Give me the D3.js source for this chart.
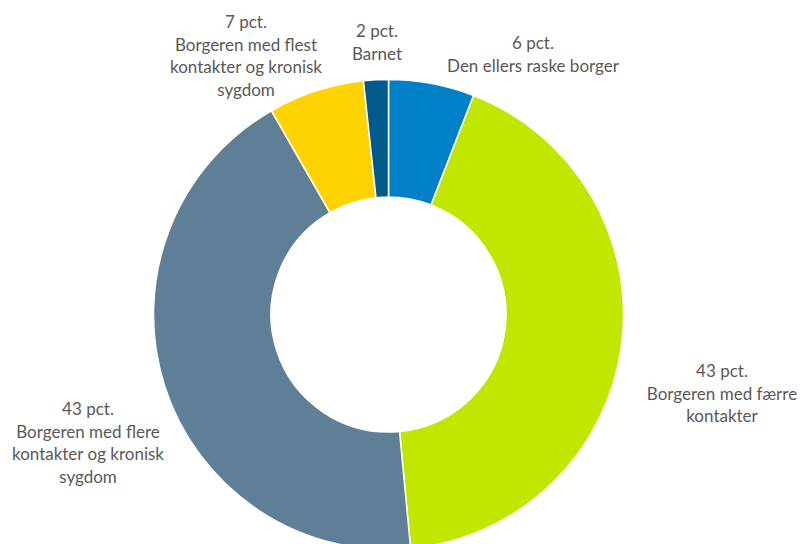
<!DOCTYPE html>
<html>
<head>
<meta charset="utf-8">
<script src="https://cdn.jsdelivr.net/npm/d3@7"></script>
<style>
  body { margin: 0; background: #fff; }
  text { font-family: "Lato", "Open Sans", sans-serif; fill: #595959; }
</style>
</head>
<body>
<div id="donut"></div>
<script>
// data (pct), clockwise from 12 o'clock
const categories = ["Den ellers raske borger", "Borgeren med færre kontakter",
    "Borgeren med flere kontakter og kronisk sygdom",
    "Borgeren med flest kontakter og kronisk sygdom", "Barnet"];
const values = [5.9, 42.6, 43.2, 6.6, 1.7];
const colors = ["#0080c6", "#c1e600", "#5e7f96", "#ffd200", "#005b8c"];
// label lines as they wrap in the picture
const labelLines = [
    ["6 pct.", "Den ellers raske borger"],
    ["43 pct.", "Borgeren med færre", "kontakter"],
    ["43 pct.", "Borgeren med flere", "kontakter og kronisk", "sygdom"],
    ["7 pct.", "Borgeren med flest", "kontakter og kronisk", "sygdom"],
    ["2 pct.", "Barnet"]
];

(function donut_chart() {
    const width = 801,
        height = 544,
        cx = 388.5,
        cy = 314.5,
        outer = 235,
        inner = 117.5,
        lineH = 22.5;

    // where the label blocks sit (centre x, first line y)
    const labelPos = [[533, 45], [722, 373], [88, 411], [246, 24], [377, 33]];

    const svg = d3.select("#donut")
        .append("svg")
        .attr("width", width)
        .attr("height", height)
        .attr("viewBox", [0, 0, width, height]);

    const data = categories.map((c, i) => ({ name: c, value: values[i], color: colors[i] }));

    const pie = d3.pie()
        .sort(null)
        .value(d => d.value);

    const arc = d3.arc()
        .innerRadius(inner)
        .outerRadius(outer);

    const g = svg.append("g")
        .attr("transform", `translate(${cx},${cy})`);

    g.selectAll("path")
        .data(pie(data))
        .join("path")
        .attr("d", arc)
        .attr("fill", d => d.data.color)
        .attr("stroke", "#fff")
        .attr("stroke-width", 1.5);

    const labels = svg.selectAll("text.lbl")
        .data(labelLines)
        .join("text")
        .attr("class", "lbl")
        .attr("text-anchor", "middle")
        .attr("font-size", "17px");

    labels.each(function (lines, i) {
        d3.select(this).selectAll("tspan")
            .data(lines)
            .join("tspan")
            .attr("x", labelPos[i][0])
            .attr("y", (d, j) => labelPos[i][1] + j * lineH)
            .attr("dominant-baseline", "middle")
            .text(d => d);
    });
})();
</script>
</body>
</html>
